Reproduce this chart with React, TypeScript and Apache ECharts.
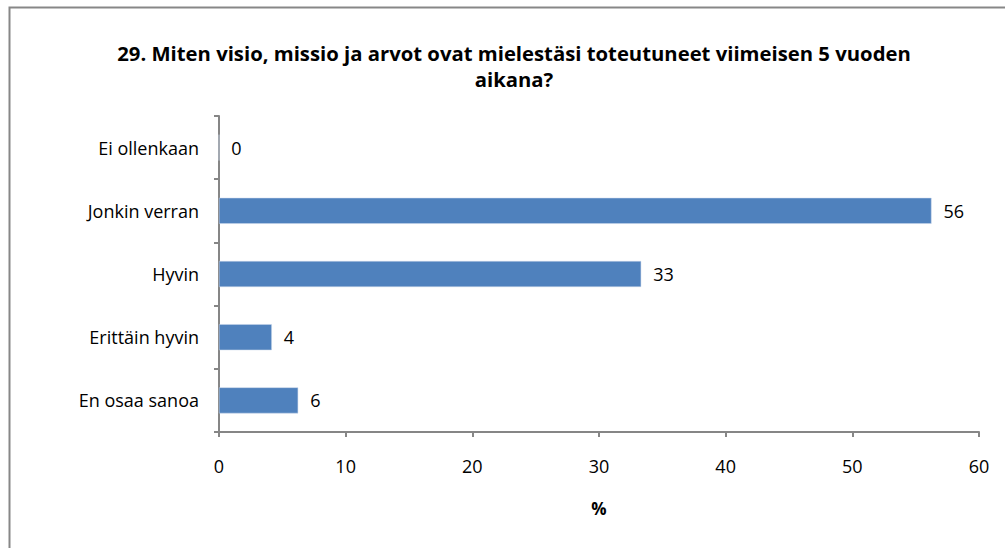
import React, { useEffect, useRef } from "react";
import * as echarts from "echarts";

const titleText = "29. Miten visio, missio ja arvot ovat mielestäsi toteutuneet viimeisen 5 vuoden\naikana?";
const categories = ["Ei ollenkaan", "Jonkin verran", "Hyvin", "Erittäin hyvin", "En osaa sanoa"];
const values = [0, 56.25, 33.33, 4.17, 6.25];
const xTicks = [0, 10, 20, 30, 40, 50, 60];
const axisName = "%";

const FONT = "Open Sans";

export default function App() {
  const ref = useRef<HTMLDivElement>(null);
  useEffect(() => {
    const chart = echarts.init(ref.current!, null, { renderer: "svg" });
    chart.setOption({
      animation: false,
      backgroundColor: "#ffffff",
      textStyle: { fontFamily: FONT },
      graphic: [
        {
          type: "rect",
          shape: { x: 9.5, y: 7.5, width: 1100, height: 700 },
          style: { fill: "none", stroke: "#878787", lineWidth: 2 },
          silent: true,
        },
      ],
      title: {
        text: titleText,
        left: 509,
        textAlign: "center",
        top: 35,
        textStyle: { fontFamily: FONT, fontSize: 20.3, fontWeight: "bold", color: "#000", lineHeight: 26 },
      },
      grid: { left: 219, right: 26, top: 116, bottom: 116, containLabel: false },
      xAxis: {
        type: "value",
        min: xTicks[0],
        max: xTicks[xTicks.length - 1],
        interval: 10,
        name: axisName,
        nameLocation: "middle",
        nameGap: 68,
        nameTextStyle: { fontFamily: FONT, fontSize: 17, fontWeight: "bold", color: "#000" },
        axisLine: { show: true, lineStyle: { color: "#868686", width: 2 } },
        axisTick: { show: true, length: 5, lineStyle: { color: "#868686", width: 2 }, inside: false },
        axisLabel: { fontFamily: FONT, fontSize: 18, color: "#000", margin: 25 },
        splitLine: { show: false },
      },
      yAxis: {
        type: "category",
        data: categories,
        inverse: true,
        axisLine: { show: true, lineStyle: { color: "#868686", width: 2 } },
        axisTick: { show: true, length: 5, lineStyle: { color: "#868686", width: 2 } },
        axisLabel: { fontFamily: FONT, fontSize: 18, color: "#000", margin: 20 },
      },
      series: [
        {
          type: "bar",
          data: values,
          barWidth: 26,
          itemStyle: { color: "#4F81BD", borderColor: "#C8D7EA", borderWidth: 0.5 },
          label: {
            show: true,
            position: "right",
            distance: 12,
            fontFamily: FONT,
            fontSize: 18,
            color: "#000",
            formatter: (p: any) => String(Math.round(p.value)),
          },
        },
      ],
    });
    return () => chart.dispose();
  }, []);
  return (
    <div
      ref={ref}
      style={{ position: "fixed", left: 0, top: 0, width: 1005, height: 548, background: "#fff" }}
    />
  );
}
